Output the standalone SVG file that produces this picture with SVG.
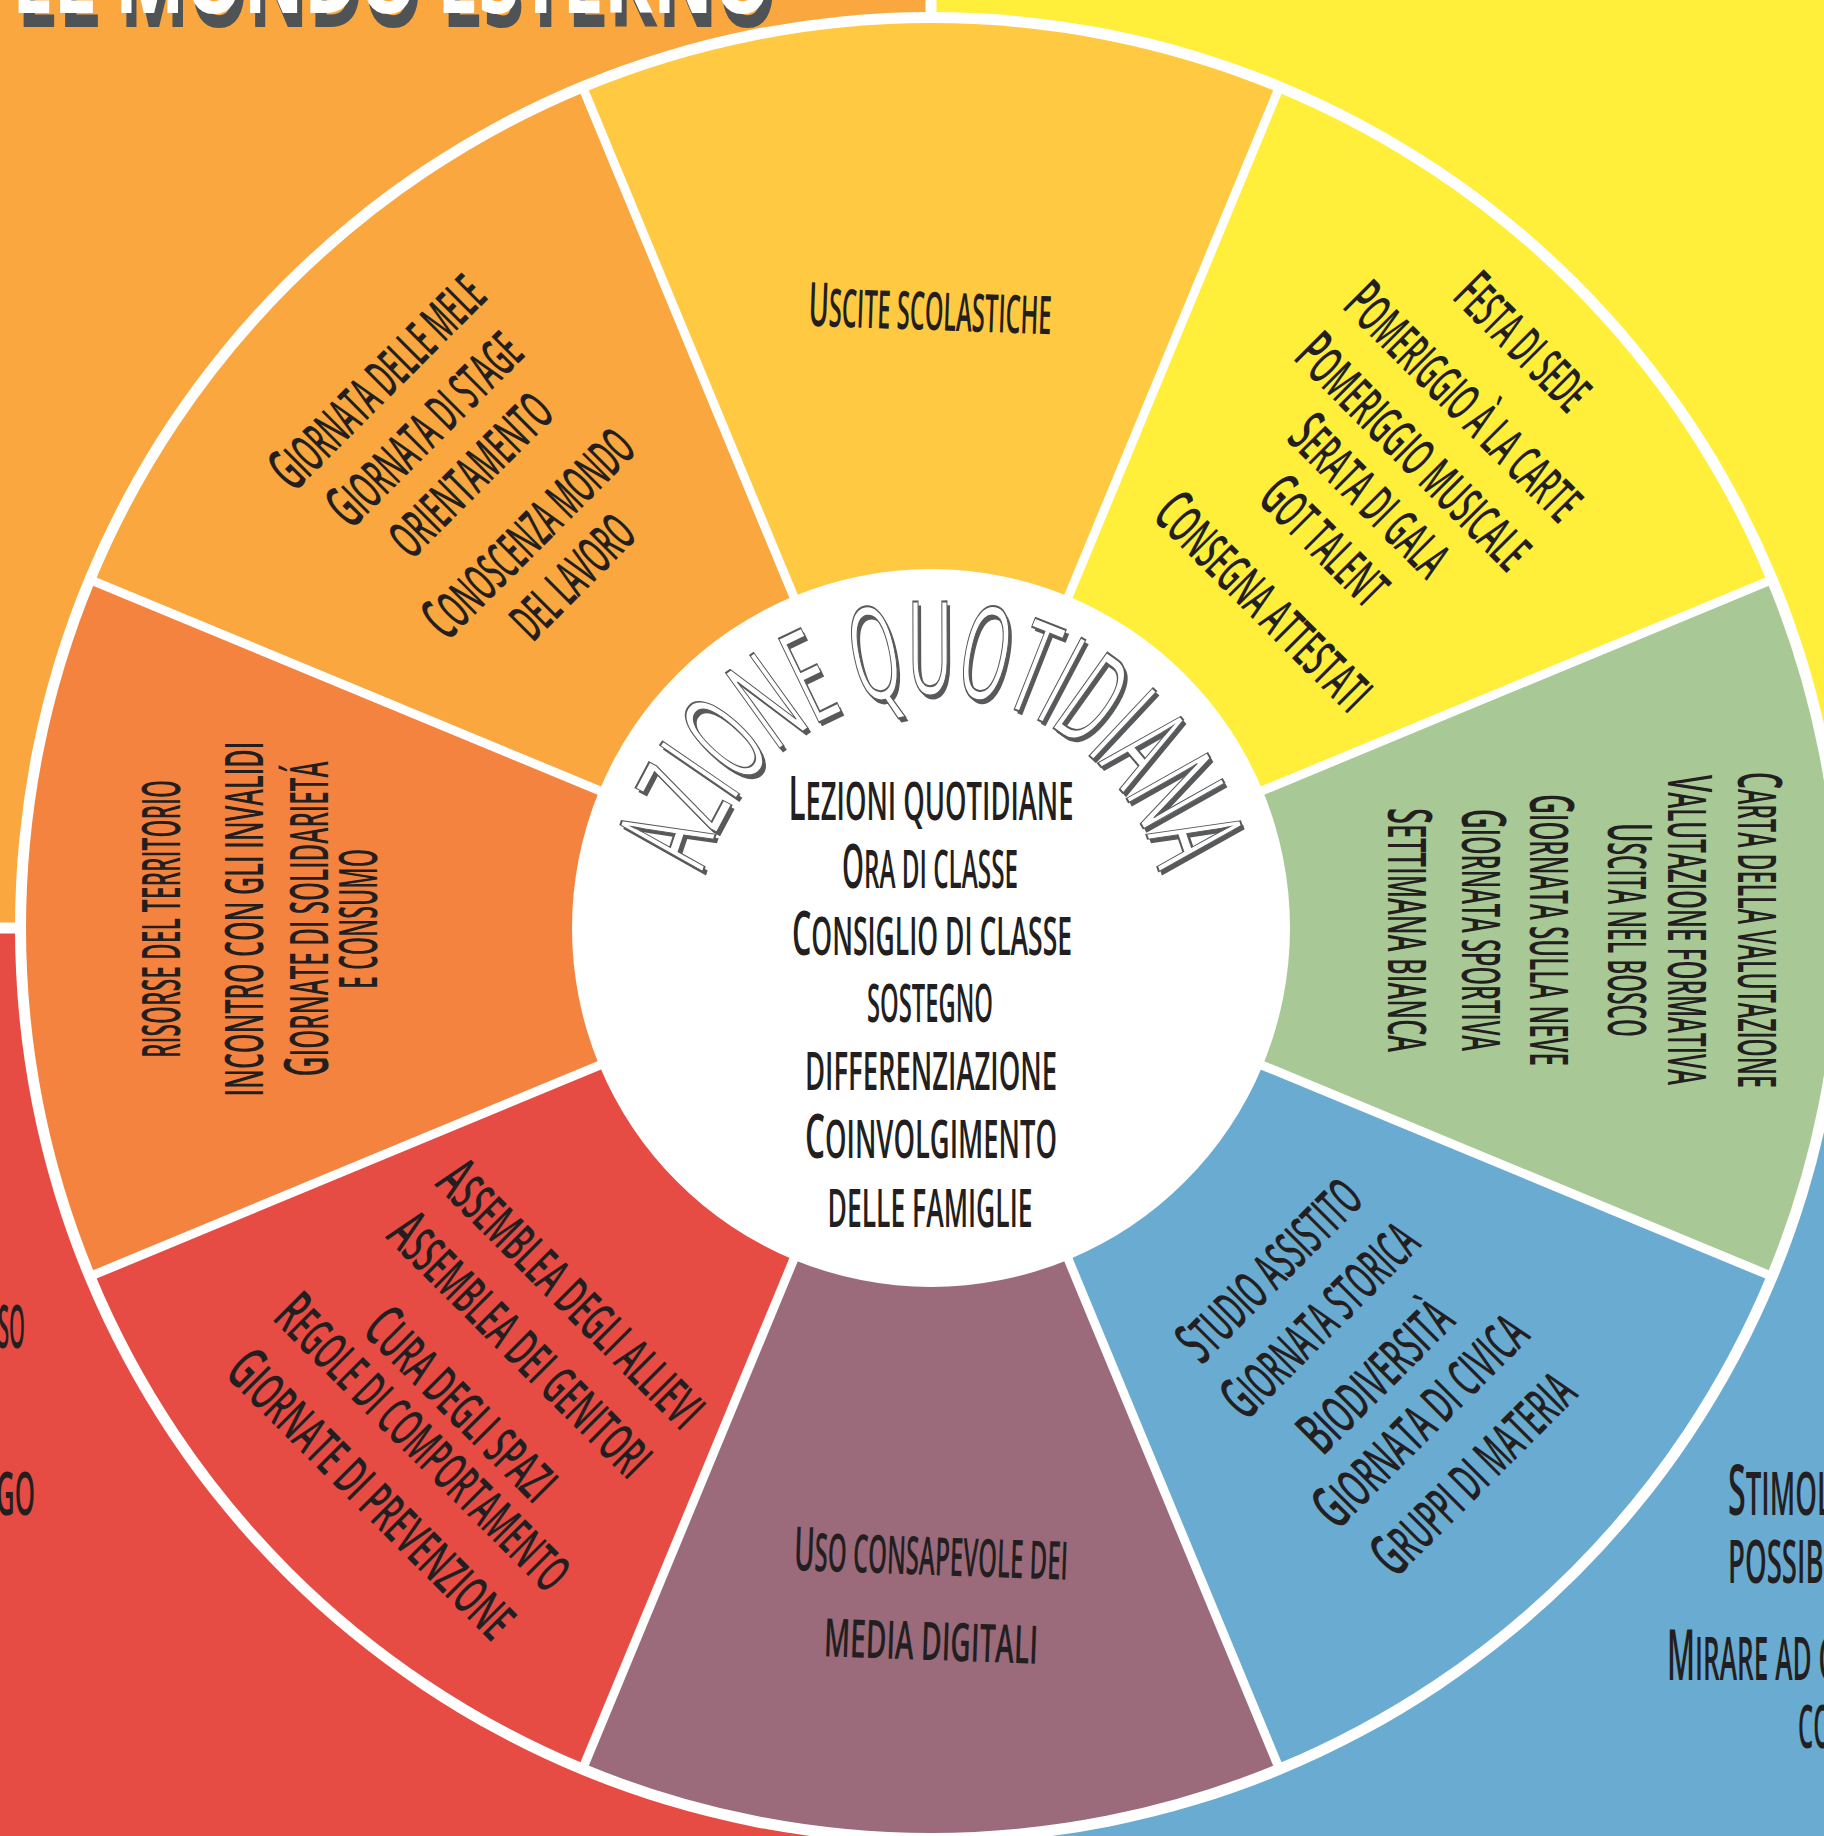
<svg xmlns="http://www.w3.org/2000/svg" width="1824" height="1836" viewBox="0 0 1824 1836">
<style>
.t{font-family:"Open Sans","Liberation Sans",sans-serif;font-size:53px;font-weight:600;text-transform:uppercase;fill:#231F20;text-anchor:middle}
.frag{font-family:"Open Sans","Liberation Sans",sans-serif;font-size:53px;font-weight:600;text-transform:uppercase;fill:#231F20}
.c{font-size:61px}
.arc{font-family:"Open Sans","Liberation Sans",sans-serif;font-size:130px;text-anchor:middle}
.ttl{font-family:"Open Sans","Liberation Sans",sans-serif;font-size:100px;font-weight:700}
.div{stroke:#FFFFFF;stroke-width:9;fill:none}
</style>
<defs>
<path id="arcPath" d="M697.9 907.6 A234 234 0 0 1 1164.1 907.6"/>
</defs>
<g id="background">
<rect x="0" y="0" width="931" height="928" fill="#F9A73E"/>
<rect x="931" y="0" width="893" height="928" fill="#FFEF3A"/>
<rect x="0" y="928" width="931" height="908" fill="#E64C43"/>
<rect x="931" y="928" width="893" height="908" fill="#6AABD2"/>
<line x1="931" y1="0" x2="931" y2="1836" stroke="#FFFFFF" stroke-width="11"/>
<line x1="0" y1="928" x2="1824" y2="928" stroke="#FFFFFF" stroke-width="11"/>
</g>
<g id="title">
<text class="ttl" x="17" y="27" textLength="760" lengthAdjust="spacingAndGlyphs" fill="#4F5355">EL MONDO ESTERNO</text>
<text class="ttl" x="12" y="13" textLength="760" lengthAdjust="spacingAndGlyphs" fill="#FFFFFF">EL MONDO ESTERNO</text>
</g>
<g id="edge-texts">
<text class="frag" x="-2" y="1348" textLength="27" lengthAdjust="spacingAndGlyphs" style="font-size:60px">SO</text>
<text class="frag" x="-4" y="1515" textLength="39" lengthAdjust="spacingAndGlyphs" style="font-size:60px">GO</text>
<text class="frag" x="-8" y="1610" textLength="10" lengthAdjust="spacingAndGlyphs" style="font-size:60px">I</text>
<text class="frag" x="1728" y="1515" textLength="104" lengthAdjust="spacingAndGlyphs" style="font-size:60px"><tspan style="font-size:70px">S</tspan>timol</text>
<text class="frag" x="1728" y="1583" textLength="104" lengthAdjust="spacingAndGlyphs" style="font-size:60px">possibi</text>
<text class="frag" x="1667" y="1680" textLength="168" lengthAdjust="spacingAndGlyphs" style="font-size:60px"><tspan style="font-size:70px">M</tspan>irare ad c</text>
<text class="frag" x="1798" y="1748" textLength="34" lengthAdjust="spacingAndGlyphs" style="font-size:60px">co</text>
</g>
<circle id="ring" cx="931" cy="928" r="916" fill="#FFFFFF"/>
<g id="sector-top">
<path d="M931 928 L584.7 91.9 A905 905 0 0 1 1277.3 91.9 Z" fill="#FFC942"/>
<text class="t" x="930" y="330" textLength="243" lengthAdjust="spacingAndGlyphs" transform="rotate(2 930 315)"><tspan class="c">U</tspan>scite scolastiche</text>
</g>
<g id="sector-top-right">
<path d="M931 928 L1277.3 91.9 A905 905 0 0 1 1767.1 581.7 Z" fill="#FFEF3A"/>
<g transform="rotate(45 931 928)">
<text class="t" x="936" y="115" textLength="165" lengthAdjust="spacingAndGlyphs"><tspan class="c">F</tspan>esta di sede</text>
<text class="t" x="936" y="199" textLength="308" lengthAdjust="spacingAndGlyphs"><tspan class="c">P</tspan>omeriggio à la carte</text>
<text class="t" x="936" y="270" textLength="305" lengthAdjust="spacingAndGlyphs"><tspan class="c">P</tspan>omeriggio musicale</text>
<text class="t" x="936" y="332" textLength="200" lengthAdjust="spacingAndGlyphs"><tspan class="c">S</tspan>erata di gala</text>
<text class="t" x="936" y="396" textLength="155" lengthAdjust="spacingAndGlyphs"><tspan class="c">G</tspan>ot talent</text>
<text class="t" x="936" y="482" textLength="280" lengthAdjust="spacingAndGlyphs"><tspan class="c">C</tspan>onsegna attestati</text>
</g>
</g>
<g id="sector-right">
<path d="M931 928 L1767.1 581.7 A905 905 0 0 1 1767.1 1274.3 Z" fill="#A8C896"/>
<g transform="rotate(90 931 928)">
<text class="t" x="933" y="121" textLength="316" lengthAdjust="spacingAndGlyphs"><tspan class="c">C</tspan>arta della valutazione</text>
<text class="t" x="933" y="191" textLength="310" lengthAdjust="spacingAndGlyphs"><tspan class="c">V</tspan>alutazione formativa</text>
<text class="t" x="933" y="251" textLength="214" lengthAdjust="spacingAndGlyphs"><tspan class="c">U</tspan>scita nel bosco</text>
<text class="t" x="933" y="329" textLength="272" lengthAdjust="spacingAndGlyphs"><tspan class="c">G</tspan>iornata sulla neve</text>
<text class="t" x="933" y="397" textLength="242" lengthAdjust="spacingAndGlyphs"><tspan class="c">G</tspan>iornata sportiva</text>
<text class="t" x="933" y="471" textLength="244" lengthAdjust="spacingAndGlyphs"><tspan class="c">S</tspan>ettimana bianca</text>
</g>
</g>
<g id="sector-bottom-right">
<path d="M931 928 L1767.1 1274.3 A905 905 0 0 1 1277.3 1764.1 Z" fill="#6AABD2"/>
<g transform="rotate(-45 931 928)">
<text class="t" x="929" y="1429" textLength="232" lengthAdjust="spacingAndGlyphs"><tspan class="c">S</tspan>tudio assistito</text>
<text class="t" x="929" y="1500" textLength="250" lengthAdjust="spacingAndGlyphs"><tspan class="c">G</tspan>iornata storica</text>
<text class="t" x="929" y="1579" textLength="190" lengthAdjust="spacingAndGlyphs"><tspan class="c">B</tspan>iodiversità</text>
<text class="t" x="929" y="1642" textLength="275" lengthAdjust="spacingAndGlyphs"><tspan class="c">G</tspan>iornata di civica</text>
<text class="t" x="929" y="1717" textLength="260" lengthAdjust="spacingAndGlyphs"><tspan class="c">G</tspan>ruppi di materia</text>
</g>
</g>
<g id="sector-bottom">
<path d="M931 928 L1277.3 1764.1 A905 905 0 0 1 584.7 1764.1 Z" fill="#9B6A7B"/>
<text class="t" x="931" y="1575" textLength="274" lengthAdjust="spacingAndGlyphs" transform="rotate(2 931 1560)"><tspan class="c">U</tspan>so consapevole dei</text>
<text class="t" x="931" y="1660" textLength="214" lengthAdjust="spacingAndGlyphs" transform="rotate(2 931 1645)">media digitali</text>
</g>
<g id="sector-bottom-left">
<path d="M931 928 L584.7 1764.1 A905 905 0 0 1 94.9 1274.3 Z" fill="#E64C43"/>
<g transform="rotate(45 931 928)">
<text class="t" x="936" y="1461" textLength="350" lengthAdjust="spacingAndGlyphs"><tspan class="c">A</tspan>ssemblea degli allievi</text>
<text class="t" x="936" y="1533" textLength="345" lengthAdjust="spacingAndGlyphs"><tspan class="c">A</tspan>ssemblea dei genitori</text>
<text class="t" x="936" y="1617" textLength="245" lengthAdjust="spacingAndGlyphs"><tspan class="c">C</tspan>ura degli spazi</text>
<text class="t" x="936" y="1671" textLength="390" lengthAdjust="spacingAndGlyphs"><tspan class="c">R</tspan>egole di comportamento</text>
<text class="t" x="936" y="1744" textLength="380" lengthAdjust="spacingAndGlyphs"><tspan class="c">G</tspan>iornate di prevenzione</text>
</g>
</g>
<g id="sector-left">
<path d="M931 928 L94.9 1274.3 A905 905 0 0 1 94.9 581.7 Z" fill="#F4833F"/>
<g transform="rotate(-90 931 928)">
<text class="t" x="940" y="177" textLength="278" lengthAdjust="spacingAndGlyphs">risorse del territorio</text>
<text class="t" x="940" y="260" textLength="355" lengthAdjust="spacingAndGlyphs">incontro con gli invalidi</text>
<text class="t" x="940" y="325" textLength="315" lengthAdjust="spacingAndGlyphs"><tspan class="c">G</tspan>iornate di solidarietá</text>
<text class="t" x="940" y="374" textLength="140" lengthAdjust="spacingAndGlyphs">e consumo</text>
</g>
</g>
<g id="sector-top-left">
<path d="M931 928 L94.9 581.7 A905 905 0 0 1 584.7 91.9 Z" fill="#F9A73E"/>
<g transform="rotate(-45 931 928)">
<text class="t" x="926" y="170" textLength="276" lengthAdjust="spacingAndGlyphs"><tspan class="c">G</tspan>iornata delle mele</text>
<text class="t" x="926" y="237" textLength="248" lengthAdjust="spacingAndGlyphs"><tspan class="c">G</tspan>iornata di stage</text>
<text class="t" x="926" y="301" textLength="205" lengthAdjust="spacingAndGlyphs">orientamento</text>
<text class="t" x="926" y="384" textLength="270" lengthAdjust="spacingAndGlyphs"><tspan class="c">C</tspan>onoscenza mondo</text>
<text class="t" x="926" y="445" textLength="150" lengthAdjust="spacingAndGlyphs">del lavoro</text>
</g>
</g>
<g id="connectors">
<line class="div" x1="931" y1="928" x2="580.8" y2="82.7"/>
<line class="div" x1="931" y1="928" x2="1281.2" y2="82.7"/>
<line class="div" x1="931" y1="928" x2="1776.3" y2="577.8"/>
<line class="div" x1="931" y1="928" x2="1776.3" y2="1278.2"/>
<line class="div" x1="931" y1="928" x2="1281.2" y2="1773.3"/>
<line class="div" x1="931" y1="928" x2="580.8" y2="1773.3"/>
<line class="div" x1="931" y1="928" x2="85.7" y2="1278.2"/>
<line class="div" x1="931" y1="928" x2="85.7" y2="577.8"/>
</g>
<g id="center">
<circle cx="931" cy="928" r="359" fill="#FFFFFF"/>
<text class="arc" fill="#58595B" transform="translate(3 4)"><textPath href="#arcPath" startOffset="50%" textLength="621" lengthAdjust="spacingAndGlyphs">AZIONE QUOTIDIANA</textPath></text>
<text class="arc" fill="#FFFFFF" stroke="#58595B" stroke-width="2"><textPath href="#arcPath" startOffset="50%" textLength="621" lengthAdjust="spacingAndGlyphs">AZIONE QUOTIDIANA</textPath></text>
<text class="t" x="931" y="820" textLength="285" lengthAdjust="spacingAndGlyphs"><tspan class="c">L</tspan>ezioni quotidiane</text>
<text class="t" x="930" y="888" textLength="176" lengthAdjust="spacingAndGlyphs"><tspan class="c">O</tspan>ra di classe</text>
<text class="t" x="932" y="955" textLength="280" lengthAdjust="spacingAndGlyphs"><tspan class="c">C</tspan>onsiglio di classe</text>
<text class="t" x="930" y="1022" textLength="126" lengthAdjust="spacingAndGlyphs">sostegno</text>
<text class="t" x="931" y="1090" textLength="252" lengthAdjust="spacingAndGlyphs">differenziazione</text>
<text class="t" x="931" y="1158" textLength="252" lengthAdjust="spacingAndGlyphs"><tspan class="c">C</tspan>oinvolgimento</text>
<text class="t" x="930" y="1227" textLength="205" lengthAdjust="spacingAndGlyphs">delle famiglie</text>
</g>
</svg>
